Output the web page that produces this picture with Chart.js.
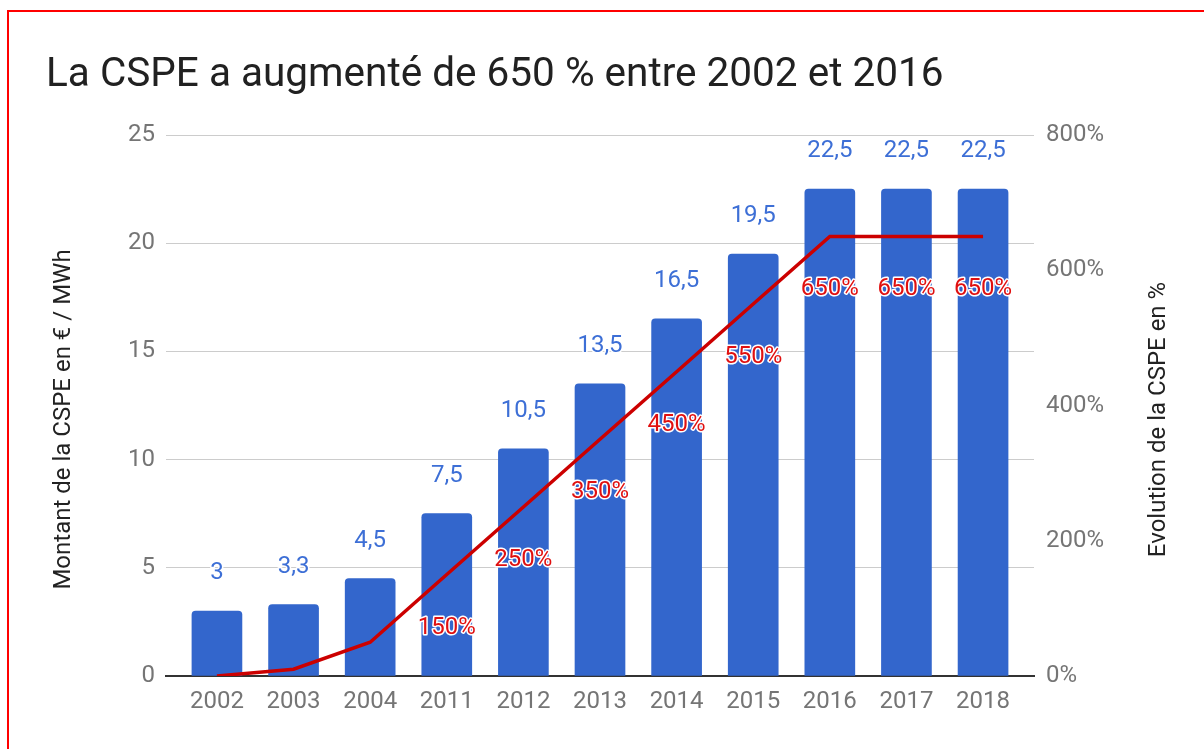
<!DOCTYPE html>
<html>
<head>
<meta charset="utf-8">
<script src="https://cdn.jsdelivr.net/npm/chart.js@4.4.0/dist/chart.umd.min.js"></script>
<style>
  html, body { margin:0; padding:0; background:#fff; overflow:hidden; }
  #wrap { position:relative; width:1204px; height:749px; }
  #frame { position:absolute; left:7px; top:10px; width:1400px; height:900px; border:2px solid #f00; pointer-events:none; }
</style>
</head>
<body>
<div id="wrap"><canvas id="c" width="1204" height="749"></canvas><div id="frame"></div></div>
<script>
// CSPE : montant (€/MWh) et évolution depuis 2002
const years = ['2002','2003','2004','2011','2012','2013','2014','2015','2016','2017','2018'];
const cspe = [3, 3.3, 4.5, 7.5, 10.5, 13.5, 16.5, 19.5, 22.5, 22.5, 22.5];
const evolution = [0, 10, 50, 150, 250, 350, 450, 550, 650, 650, 650];
const pctLabelFrom = 3; // les 3 premiers % ne sont pas affichés
const titleText = 'La CSPE a augmenté de 650 % entre 2002 et 2016';
const leftTitle = 'Montant de la CSPE en € / MWh';
const rightTitle = 'Evolution de la CSPE en %';

const FONT = 'Roboto';
const frNum = v => String(v).replace('.', ',');

// étiquettes de valeurs (bleu au-dessus des barres, rouge sous la courbe)
const valueLabels = {
  id: 'valueLabels',
  afterDatasetsDraw(chart){
    const ctx = chart.ctx;
    const bars = chart.getDatasetMeta(0).data;
    const pts = chart.getDatasetMeta(1).data;
    ctx.save();
    ctx.font = '24px ' + FONT;
    ctx.textAlign = 'center';
    ctx.textBaseline = 'middle';
    ctx.lineJoin = 'round';
    ctx.lineWidth = 3;
    ctx.strokeStyle = '#fff';
    bars.forEach((b, i) => {
      const t = frNum(cspe[i]);
      ctx.strokeText(t, b.x, b.y - 38);
      ctx.fillStyle = '#3d6fd6';
      ctx.fillText(t, b.x, b.y - 38);
    });
    pts.forEach((p, i) => {
      if (i < pctLabelFrom) return;
      const t = evolution[i] + '%';
      ctx.strokeText(t, p.x, p.y + 53);
      ctx.fillStyle = '#e01010';
      ctx.fillText(t, p.x, p.y + 53);
    });
    ctx.restore();
  }
};

// titres des axes (les deux se lisent de bas en haut)
const axisTitles = {
  id: 'axisTitles',
  afterDraw(chart){
    const {ctx, chartArea} = chart;
    const cy = (chartArea.top + chartArea.bottom) / 2 + 14;
    ctx.save();
    ctx.font = '24px ' + FONT;
    ctx.fillStyle = '#222';
    ctx.textAlign = 'center';
    ctx.textBaseline = 'middle';
    [[chart.scales.y.left + 18, leftTitle], [chart.scales.y1.right - 45, rightTitle]].forEach(([x, t]) => {
      ctx.save();
      ctx.translate(x, cy);
      ctx.rotate(-Math.PI / 2);
      ctx.fillText(t, 0, 0);
      ctx.restore();
    });
    ctx.restore();
  }
};

new Chart(document.getElementById('c'), {
  type: 'bar',
  data: {
    datasets: [
      { label: 'Montant', data: cspe.map((v, i) => ({x: i, y: v})), yAxisID: 'y',
        backgroundColor: '#3366cc', barThickness: 50,
        borderRadius: {topLeft: 4, topRight: 4}, borderSkipped: 'bottom', order: 1 },
      { type: 'line', label: 'Evolution', data: evolution.map((v, i) => ({x: i, y: v})), yAxisID: 'y1',
        borderColor: '#cc0000', borderWidth: 3.5, pointRadius: 0, tension: 0, order: 0 }
    ]
  },
  options: {
    responsive: false,
    devicePixelRatio: 1,
    animation: false,
    layout: { padding: { left: 46, right: 0, top: 0, bottom: 0 } },
    plugins: {
      legend: { display: false },
      tooltip: { enabled: false },
      title: { display: true, text: titleText, align: 'start', color: '#212121',
        font: { family: FONT, size: 40.5, weight: 'normal' }, padding: { top: 52, bottom: 34.4 } }
    },
    scales: {
      x: {
        type: 'linear', offset: false, min: -0.665, max: 10.665,
        afterBuildTicks: s => { s.ticks = years.map((_, i) => ({value: i})); },
        afterFit: s => { s.height = 73; },
        grid: { display: false, drawTicks: false, offset: false },
        border: { display: true, color: '#333', width: 2 },
        ticks: { autoSkip: false, maxRotation: 0, padding: 12, color: '#757575',
          font: { family: FONT, size: 24 }, callback: v => years[v] }
      },
      y: {
        position: 'left', min: 0, max: 25,
        afterFit: s => { s.width = 120; },
        grid: { color: '#cccccc', drawTicks: false },
        border: { display: false },
        ticks: { stepSize: 5, padding: 11, color: '#757575', font: { family: FONT, size: 24 } }
      },
      y1: {
        position: 'right', min: 0, max: 800,
        afterFit: s => { s.width = 170; },
        grid: { display: false, drawTicks: false },
        border: { display: false },
        ticks: { stepSize: 200, padding: 12, color: '#757575', font: { family: FONT, size: 24 },
          callback: v => v + '%' }
      }
    }
  },
  plugins: [valueLabels, axisTitles]
});
</script>
</body>
</html>
